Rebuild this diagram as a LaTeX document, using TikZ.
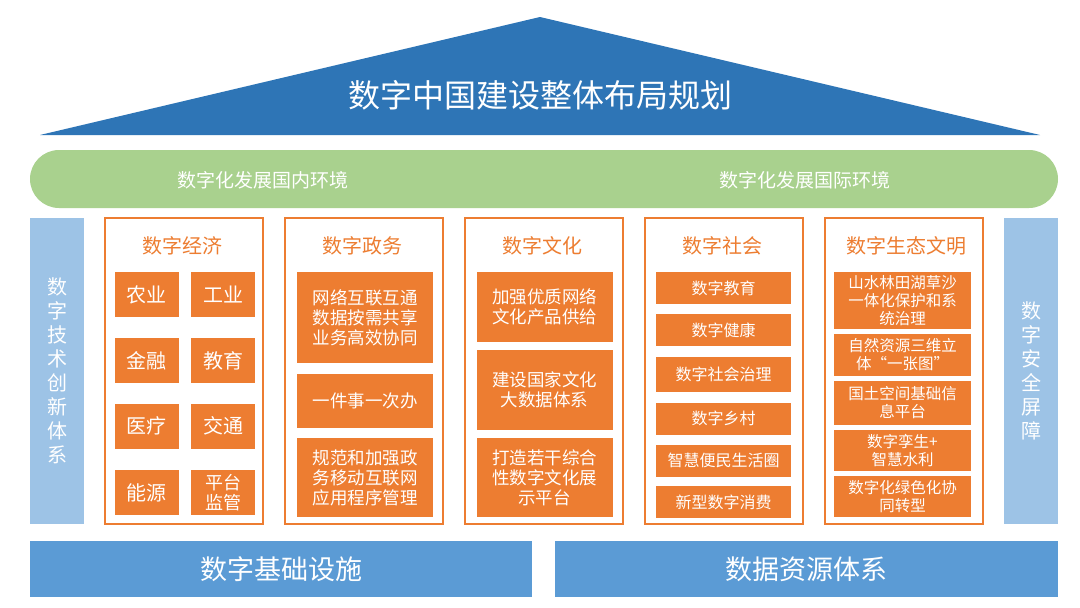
\documentclass[tikz,border=0pt]{standalone}
\usepackage{fontspec}
\setmainfont{Noto Sans CJK SC}
\usepackage{xcolor}
\usepackage{tikz}
\usetikzlibrary{positioning}
\definecolor{roofblue}{HTML}{2E75B6}
\definecolor{envgreen}{HTML}{A9D18E}
\definecolor{sideblue}{HTML}{9DC3E6}
\definecolor{baseblue}{HTML}{5B9BD5}
\definecolor{itemorange}{HTML}{ED7D31}
\tikzstyle{frame} = [rectangle, draw=itemorange, line width=1.2pt, minimum width=158pt, minimum height=306pt, inner sep=0pt]
\tikzstyle{heading} = [text=itemorange, inner sep=0pt, font=\fontsize{20}{24}\selectfont]
\tikzstyle{item} = [rectangle, fill=itemorange, text=white, align=center, inner sep=0pt]
\tikzstyle{side} = [rectangle, fill=sideblue, text=white, align=center, minimum width=54pt, minimum height=306pt, inner sep=0pt, font=\fontsize{20}{24}\selectfont]
\tikzstyle{base} = [rectangle, fill=baseblue, text=white, minimum height=56pt, inner sep=0pt, font=\fontsize{27}{30}\selectfont]

\begin{document}
\begin{tikzpicture}[x=1pt, y=-1pt]
    \useasboundingbox[fill=white] (0,0) rectangle (1080,608);
    % Roof
    \fill[roofblue] (40,135) -- (540,17) -- (1040,135) -- cycle;
    \node[text=white, font=\fontsize{32}{36}\selectfont] (title) at (540,95) {数字中国建设整体布局规划};

    % Environment band
    \fill[envgreen, rounded corners=29pt] (30,150) rectangle (1058,208);
    \node[text=white, font=\fontsize{19}{22}\selectfont] (inner) at (263,180) {数字化发展国内环境};
    \node[text=white, font=\fontsize{19}{22}\selectfont] (outer) at (805,180) {数字化发展国际环境};

    % Side pillars
    \node[side] (tech) at (57,371) {数\\字\\技\\术\\创\\新\\体\\系};
    \node[side] (safe) at (1031,371) {数\\字\\安\\全\\屏\\障};

    % Columns
    \node[frame] (econ) at (184,371) {};
    \node[frame] (gov) at (364,371) {};
    \node[frame] (cult) at (544,371) {};
    \node[frame] (soc) at (724,371) {};
    \node[frame] (eco) at (904,371) {};
    \node[heading] (econt) at (182,246) {数字经济};
    \node[heading] (govt) at (362,246) {数字政务};
    \node[heading] (cultt) at (542,246) {数字文化};
    \node[heading] (soct) at (722,246) {数字社会};
    \node[heading] (ecot) at (906,246) {数字生态文明};

    % Digital economy
    \tikzset{cell/.style={item, minimum width=64pt, minimum height=45pt, font=\fontsize{20}{22}\selectfont}}
    \node[cell] (agri) at (146.5,294.5) {农业};
    \node[cell] (indu) at (223,294.5) {工业};
    \node[cell] (fin) at (146.5,360.5) {金融};
    \node[cell] (edu) at (223,360.5) {教育};
    \node[cell] (med) at (146.5,426) {医疗};
    \node[cell] (traf) at (223,426) {交通};
    \node[cell] (ener) at (146.5,492.5) {能源};
    \node[cell, font=\fontsize{18}{20}\selectfont] (plat) at (223,492.5) {平台\\监管};

    % Digital government
    \tikzset{gitem/.style={item, minimum width=136pt, font=\fontsize{17.5}{20}\selectfont}}
    \node[gitem, minimum height=91pt] (g1) at (365,317.5) {网络互联互通\\数据按需共享\\业务高效协同};
    \node[gitem, minimum height=54pt] (g2) at (365,401) {一件事一次办};
    \node[gitem, minimum height=79pt] (g3) at (365,477.5) {规范和加强政\\务移动互联网\\应用程序管理};

    % Digital culture
    \node[gitem, minimum height=70pt] (c1) at (544.5,307) {加强优质网络\\文化产品供给};
    \node[gitem, minimum height=80pt] (c2) at (544.5,390) {建设国家文化\\大数据体系};
    \node[gitem, minimum height=79pt] (c3) at (544.5,477.5) {打造若干综合\\性数字文化展\\示平台};

    % Digital society
    \tikzset{sitem/.style={item, minimum width=135pt, minimum height=32pt, font=\fontsize{16}{19}\selectfont}}
    \node[sitem] (s1) at (723.5,288) {数字教育};
    \node[sitem] (s2) at (723.5,330) {数字健康};
    \node[sitem, minimum height=35pt] (s3) at (723.5,374.5) {数字社会治理};
    \node[sitem] (s4) at (723.5,418.5) {数字乡村};
    \node[sitem] (s5) at (723.5,460.5) {智慧便民生活圈};
    \node[sitem] (s6) at (723.5,502) {新型数字消费};

    % Digital ecology
    \tikzset{eitem/.style={item, minimum width=137pt, font=\fontsize{15.5}{18}\selectfont}}
    \node[eitem, minimum height=57pt] (e1) at (902.5,300.5) {山水林田湖草沙\\一体化保护和系\\统治理};
    \node[eitem, minimum height=42pt] (e2) at (902.5,355) {自然资源三维立\\体“一张图”};
    \node[eitem, minimum height=44pt] (e3) at (902.5,403) {国土空间基础信\\息平台};
    \node[eitem, minimum height=41pt] (e4) at (902.5,450.5) {数字孪生+\\智慧水利};
    \node[eitem, minimum height=41pt] (e5) at (902.5,496.5) {数字化绿色化协\\同转型};

    % Foundation
    \node[base, minimum width=502pt] (infra) at (281,569) {数字基础设施};
    \node[base, minimum width=503pt] (data) at (806.5,569) {数据资源体系};
\end{tikzpicture}
\end{document}
